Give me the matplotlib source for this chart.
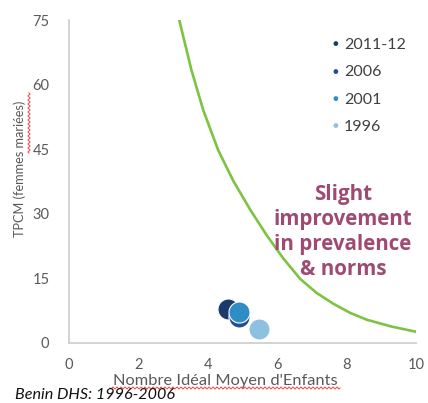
import matplotlib.pyplot as plt
import numpy as np

# survey rounds (ideal number of children vs. modern contraceptive prevalence)
years = ['2011-12', '2006', '2001', '1996']
ideal_children = [4.57, 4.89, 4.89, 5.48]
tpcm = [7.9, 6.1, 7.3, 3.3]
colors = ['#1b3a6b', '#214f96', '#2f8dc6', '#8ec1e0']

# green reference curve
curve_x = [3.18, 3.53, 3.87, 4.30, 4.74, 5.22, 5.70, 6.18, 6.66, 7.14, 7.62, 8.10, 8.58, 9.30, 10.0]
curve_y = [75, 63.4, 54.1, 44.8, 37.6, 31.0, 25.0, 19.6, 14.9, 11.6, 9.1, 7.0, 5.4, 3.8, 2.6]

plt.rcParams['font.family'] = ['Lato', 'DejaVu Sans']

fig = plt.figure(figsize=(4.28, 4.03), dpi=100)
ax = fig.add_axes([0.161, 0.149, 0.811, 0.801])

ax.plot(curve_x, curve_y, color='#7dc242', lw=1.9, zorder=2)

for yr, x, y, c in zip(years, ideal_children, tpcm, colors):
    ax.scatter(x, y, s=230, color=c, edgecolors='white', linewidths=0.8, zorder=3)

ax.set_xlim(0, 10)
ax.set_ylim(0, 75)
ax.set_xticks(range(0, 11, 2))
ax.set_yticks(range(0, 76, 15))
ax.tick_params(length=0, labelsize=10.5, colors='#595959')
ax.tick_params(axis='x', pad=11)
ax.tick_params(axis='y', pad=14)
for s in ['top', 'right']:
    ax.spines[s].set_visible(False)
for s in ['left', 'bottom']:
    ax.spines[s].set_color('#cccccc')
    ax.spines[s].set_linewidth(1.2)

# legend drawn by hand at top right
for i, (yr, c) in enumerate(zip(years, colors)):
    yf = 1 - (45 + i * 27.3) / 403
    fig.text(335 / 428, yf, '\u25CF', color=c, fontsize=7, ha='center', va='center')
    fig.text(344 / 428, yf, yr, color='#404040', fontsize=11.5, ha='left', va='center')

fig.text(343 / 428, 1 - 232 / 403, 'Slight\nimprovement\nin prevalence\n& norms',
         color='#9e4a72', fontsize=14.8, fontweight='bold', ha='center', va='center',
         linespacing=1.25, family=['Open Sans', 'DejaVu Sans'])

fig.text(20 / 428, 1 - 169 / 403, 'TPCM (femmes mariées)', rotation=90,
         color='#595959', fontsize=9.2, ha='center', va='center')
fig.text(225 / 428, 1 - 381 / 403, "Nombre Idéal Moyen d'Enfants",
         color='#595959', fontsize=11.8, ha='center', va='center')
fig.text(15 / 428, 1 - 395 / 403, 'Benin DHS: 1996-2006', style='italic',
         color='#111111', fontsize=11.6, ha='left', va='center')

# spell-check squiggles
t = np.linspace(0, 1, 400)
wx = 110 + 230 * t
wy = 388 + 1.0 * np.sin(2 * np.pi * (wx - 110) / 4)
fig.add_artist(plt.Line2D(wx / 428, 1 - wy / 403, color='#e8474a', lw=0.7))
vy = 93 + 60 * t
vx = 29 + 1.0 * np.sin(2 * np.pi * (vy - 93) / 4)
fig.add_artist(plt.Line2D(vx / 428, 1 - vy / 403, color='#e8474a', lw=0.7))

fig.savefig('out.png', dpi=100)
